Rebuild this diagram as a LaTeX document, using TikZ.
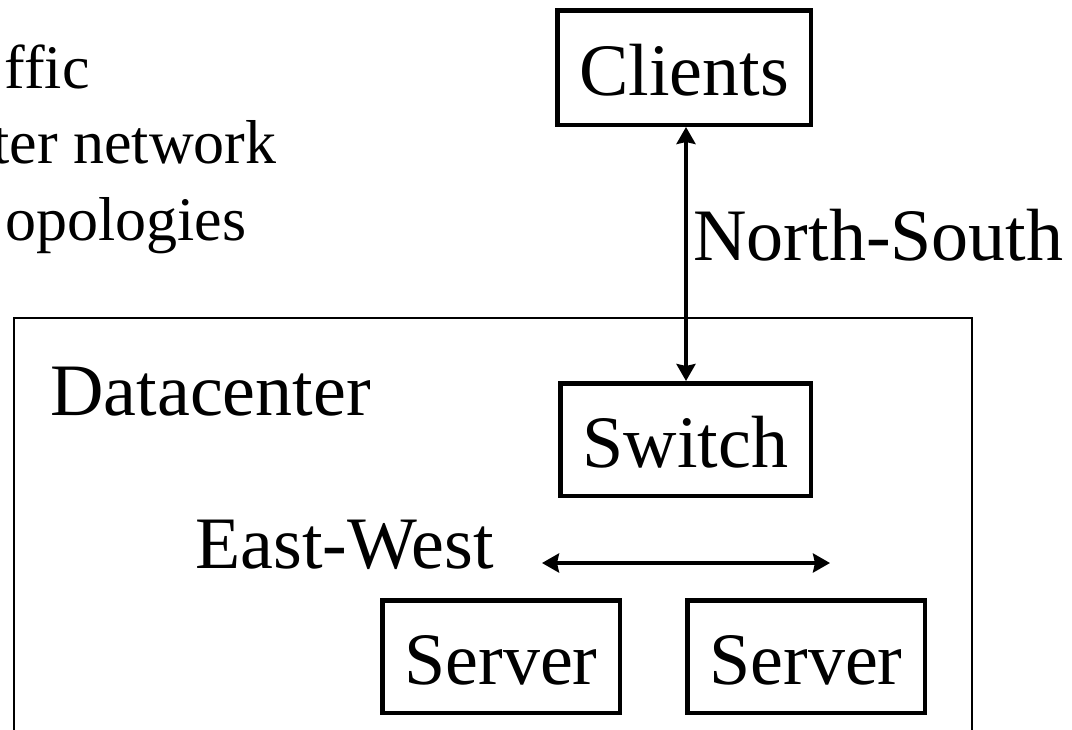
\documentclass[tikz,border=0pt]{standalone}
\usepackage{fontspec}
\setmainfont{Liberation Serif}
\usetikzlibrary{arrows.meta}

\tikzset{
  box/.style={draw, line width=2.25pt, inner sep=0pt, text height=28pt, text depth=0pt,
              font=\fontsize{37pt}{44pt}\selectfont},
  lbl/.style={inner sep=0pt, anchor=base west, font=\fontsize{37pt}{44pt}\selectfont},
  sidetext/.style={inner sep=0pt, anchor=base east, font=\fontsize{31pt}{37pt}\selectfont},
  tip/.style={Stealth[length=8.5pt,width=9.5pt,inset=1pt]},
  flow/.style={line width=1.75pt, {Stealth[length=8.5pt,width=9.5pt,inset=1pt]}-{Stealth[length=8.5pt,width=9.5pt,inset=1pt]}},
}

\begin{document}
\begin{tikzpicture}[x=0.5pt, y=-0.5pt]
  \useasboundingbox (0,0) rectangle (1072,729);
  \clip (0,0) rectangle (1072,729);

  % slide text, partly off the left edge
  \node[sidetext] (t1) at (90,88) {ffic};
  \node[sidetext] (t2) at (277,163) {ter network};
  \node[sidetext] (t3) at (247,240) {opologies};

  % datacenter enclosure
  \draw[line width=1pt] (14,318) rectangle (972,780);
  \node[lbl] (dc) at (50,415) {Datacenter};

  % boxes
  \node[box, minimum width=126.75pt, minimum height=57.25pt] (clients) at (684,67.5) {Clients};
  \node[box, minimum width=125.25pt, minimum height=56.25pt] (switch) at (685.5,439.5) {Switch};
  \node[box, minimum width=118.75pt, minimum height=56.25pt] (srv1) at (501,656.5) {Server};
  \node[box, minimum width=118.75pt, minimum height=56.25pt] (srv2) at (806,656.5) {Server};

  % north-south traffic
  \coordinate (ns) at (686,0);
  \draw[flow] (clients.south -| ns) -- (switch.north -| ns);
  \node[lbl] (nslbl) at (693,260) {North-South};

  % east-west traffic
  \coordinate (ewl) at (542,563);
  \coordinate (ewr) at (830,563);
  \draw[flow] (ewl) -- (ewr);
  \node[lbl] (ewlbl) at (195,568) {East-West};
\end{tikzpicture}
\end{document}
